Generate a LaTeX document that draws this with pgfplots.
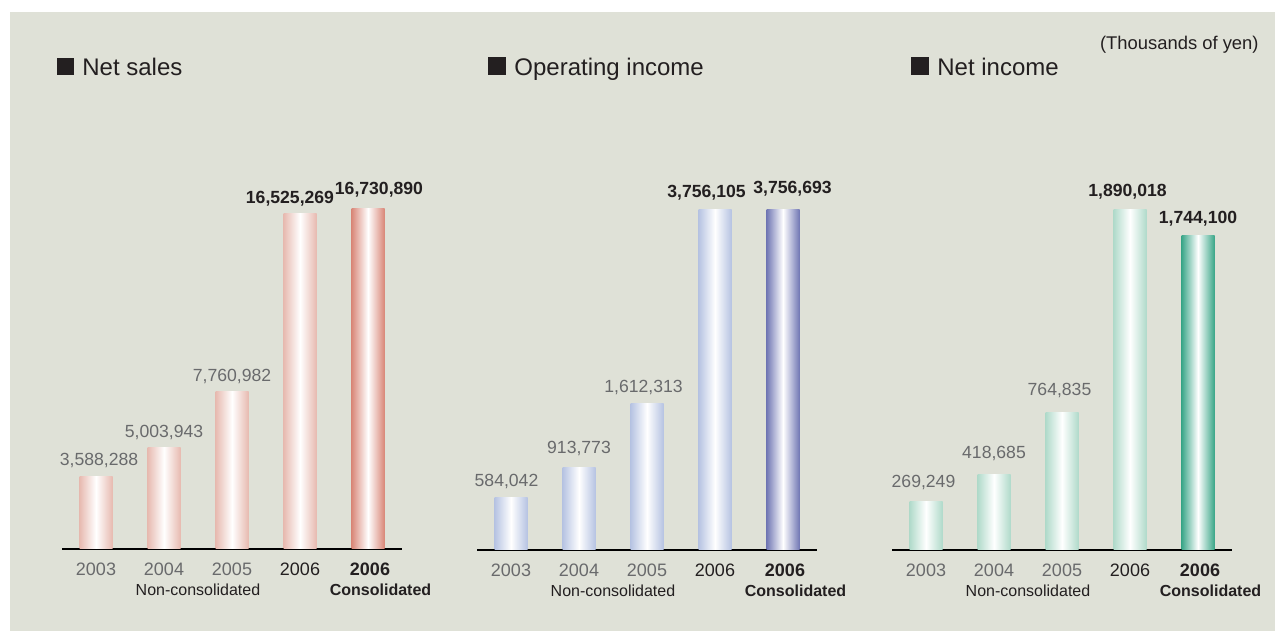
\documentclass[border=0pt]{standalone}
\usepackage{pgfplots}
\pgfplotsset{compat=1.18}
\usepackage{fontspec}
\setmainfont{Liberation Sans}
\definecolor{bg}{RGB}{223,225,215}
\definecolor{dark}{RGB}{35,31,32}
\definecolor{gray1}{RGB}{105,106,108}
\definecolor{pinkL}{RGB}{231,186,176}
\definecolor{pinkD}{RGB}{217,135,120}
\definecolor{blueL}{RGB}{182,195,226}
\definecolor{blueD}{RGB}{113,119,180}
\definecolor{greenL}{RGB}{176,218,202}
\definecolor{greenD}{RGB}{58,166,136}
\pgfplotsset{
  panel/.style={scale only axis, width=170pt, height=170pt,
    xmin=-0.5, xmax=4.5, ymin=0, enlargelimits=false, clip=false,
    axis x line=bottom, axis y line=none,
    x axis line style={-, line width=1pt, black},
    xtick={0,1,2,3,4}, major tick length=0pt, ytick=\empty,
    xticklabel style={anchor=base, inner sep=0pt, yshift=-13.5pt, text=gray1,
      font=\fontsize{9}{10}\selectfont},
    xticklabels={2003,2004,2005,{\color{dark}2006},{\hspace*{2pt}\color{dark}\bfseries 2006}},
    anchor=south west},
  valbar/.style={ybar, bar width=16.5pt, bar shift=0pt, draw=none,
    left color=#1, right color=#1, middle color=white,
    nodes near coords, point meta=explicit symbolic,
    visualization depends on={value \thisrow{dx}\as\dx},
    visualization depends on={value \thisrow{dy}\as\dy},
    every node near coord/.append style={anchor=south, inner sep=0pt, text depth=0pt,
      xshift=\dx pt, yshift=\dy pt}},
  graylab/.style={every node near coord/.append style={text=gray1, font=\fontsize{8.8}{10}\selectfont}},
  boldlab/.style={every node near coord/.append style={text=dark, font=\bfseries\fontsize{8.8}{10}\selectfont}},
}
% one bar: colour, label style, x, y, label, dx, dy
\newcommand{\onebar}[7]{%
  \addplot[valbar=#1, #2] table[meta=lab, row sep=\\] {x y lab dx dy\\ #3 #4 #5 #6 #7\\};
}
\newcommand{\sublabels}{%
  \node[font=\fontsize{8}{9}\selectfont, text=dark, anchor=base, inner sep=0pt] at (axis cs:1.5,0) [yshift=-23.5pt] {Non-consolidated};
  \node[font=\bfseries\fontsize{8}{9}\selectfont, text=dark, anchor=base, inner sep=0pt] at (axis cs:4,0) [xshift=6.25pt, yshift=-23.5pt] {Consolidated};
}
\begin{document}
\begin{tikzpicture}
\useasboundingbox (0,0) rectangle (637.5pt,315.5pt);
\fill[white] (0,0) rectangle (637.5pt,315.5pt);
\fill[bg] (5pt,0) rectangle (637.5pt,309.5pt);
% titles
\node[anchor=base west, inner sep=0pt, text=dark, font=\fontsize{12}{14}\selectfont] at (28.5pt,277.5pt) {\raisebox{0.5pt}{\rule{8.5pt}{8.5pt}}\hspace{4pt}Net sales};
\node[anchor=base west, inner sep=0pt, text=dark, font=\fontsize{12}{14}\selectfont] at (244pt,277.5pt) {\raisebox{0.5pt}{\rule{9pt}{9pt}}\hspace{4pt}Operating income};
\node[anchor=base west, inner sep=0pt, text=dark, font=\fontsize{12}{14}\selectfont] at (455.5pt,277.5pt) {\raisebox{0.5pt}{\rule{9pt}{9pt}}\hspace{4pt}Net income};
\node[anchor=base east, inner sep=0pt, text=dark, font=\fontsize{9.2}{11}\selectfont] at (629.5pt,290.5pt) {(Thousands of yen)};

% Net sales
\begin{axis}[panel, at={(31pt,41pt)}, ymax=16730890]
\onebar{pinkL}{graylab}{0}{3588288}{3,588,288}{1.5}{5}
\onebar{pinkL}{graylab}{1}{5003943}{5,003,943}{0}{4.5}
\onebar{pinkL}{graylab}{2}{7760982}{7,760,982}{0}{4.5}
\onebar{pinkL}{boldlab}{3}{16525269}{16,525,269}{-5}{4.5}
\onebar{pinkD}{boldlab}{4}{16730890}{16,730,890}{5.5}{7}
\sublabels
\end{axis}

% Operating income
\begin{axis}[panel, at={(238.5pt,40.5pt)}, ymax=3750000]
\onebar{blueL}{graylab}{0}{584042}{584,042}{-2.25}{5}
\onebar{blueL}{graylab}{1}{913773}{913,773}{0}{6.5}
\onebar{blueL}{graylab}{2}{1612313}{1,612,313}{-1.75}{5.5}
\onebar{blueL}{boldlab}{3}{3756105}{3,756,105}{-4.25}{6}
\onebar{blueD}{boldlab}{4}{3756693}{3,756,693}{4.75}{7.5}
\sublabels
\end{axis}

% Net income
\begin{axis}[panel, at={(446pt,40.5pt)}, ymax=1885000]
\onebar{greenL}{graylab}{0}{269249}{269,249}{-1.25}{7}
\onebar{greenL}{graylab}{1}{418685}{418,685}{0}{8}
\onebar{greenL}{graylab}{2}{764835}{764,835}{-1.25}{8}
\onebar{greenL}{boldlab}{3}{1890018}{1,890,018}{-1.25}{6}
\onebar{greenD}{boldlab}{4}{1744100}{1,744,100}{0}{6}
\sublabels
\end{axis}
\end{tikzpicture}
\end{document}
